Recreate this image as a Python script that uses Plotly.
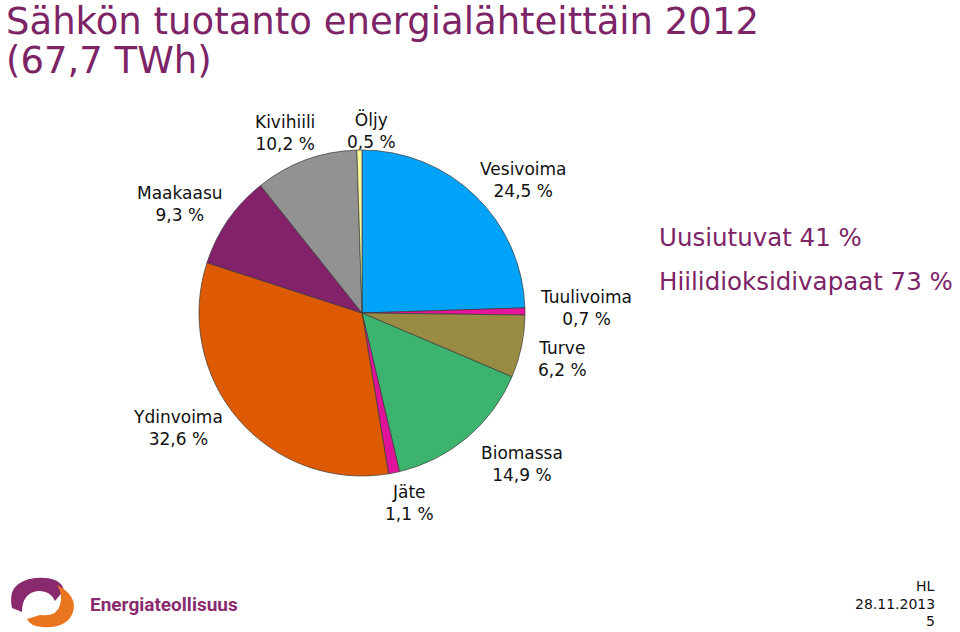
import plotly.graph_objects as go

# Data (clockwise from 12 o'clock)
categories = ["Vesivoima", "Tuulivoima", "Turve", "Biomassa", "Jäte",
              "Ydinvoima", "Maakaasu", "Kivihiili", "Öljy"]
shares = [24.5, 0.7, 6.2, 14.9, 1.1, 32.6, 9.3, 10.2, 0.5]
share_labels = ["24,5 %", "0,7 %", "6,2 %", "14,9 %", "1,1 %",
                "32,6 %", "9,3 %", "10,2 %", "0,5 %"]
colors = ["#00A3F8", "#E6139B", "#9A8B42", "#3DB370", "#E0129A",
          "#DE5A02", "#83226A", "#929292", "#FFFF99"]

title_line1 = "Sähkön tuotanto energialähteittäin 2012"
title_line2 = "(67,7 TWh)"
side_notes = ["Uusiutuvat 41 %", "Hiilidioksidivapaat 73 %"]
footer = ["HL", "28.11.2013", "5"]
brand = "Energiateollisuus"

W, H = 960, 632
cx, cy, r = 362, 313, 163

fig = go.Figure()
fig.add_trace(go.Pie(
    labels=categories, values=shares, sort=False, direction="clockwise",
    rotation=0, textinfo="none", showlegend=False,
    marker=dict(colors=colors, line=dict(color="#3a3a3a", width=0.7)),
    domain=dict(x=[(cx - r) / W, (cx + r) / W],
                y=[1 - (cy + r) / H, 1 - (cy - r) / H]),
))

# invisible pixel-space axes
fig.update_layout(
    xaxis=dict(range=[0, W], visible=False, domain=[0, 1], fixedrange=True),
    yaxis=dict(range=[H, 0], visible=False, domain=[0, 1], fixedrange=True),
)

TXT = "DejaVu Sans, Verdana, sans-serif"
PURPLE = "#7D2467"

label_pos = {
    "Vesivoima": (523, 180), "Tuulivoima": (586, 308), "Turve": (562, 359),
    "Biomassa": (522, 464), "Jäte": (409, 503), "Ydinvoima": (178, 428),
    "Maakaasu": (180, 204), "Kivihiili": (285, 133), "Öljy": (371, 130),
}
ann = []
for name, pct in zip(categories, share_labels):
    x, y = label_pos[name]
    ann.append(dict(x=x, y=y, xref="x", yref="y", text=f"{name}<br>{pct}",
                    showarrow=False, align="center",
                    font=dict(family=TXT, size=17, color="#111111")))

ann.append(dict(x=4, y=21, xref="x", yref="y", text=title_line1, showarrow=False,
                xanchor="left", yanchor="middle",
                font=dict(family=TXT, size=37, color=PURPLE)))
ann.append(dict(x=4, y=60, xref="x", yref="y", text=title_line2, showarrow=False,
                xanchor="left", yanchor="middle",
                font=dict(family=TXT, size=37, color=PURPLE)))
for i, t in enumerate(side_notes):
    ann.append(dict(x=657, y=237 + 44 * i, xref="x", yref="y", text=t,
                    showarrow=False, xanchor="left", yanchor="middle",
                    font=dict(family=TXT, size=24.5, color=PURPLE)))
for i, t in enumerate(footer):
    ann.append(dict(x=937, y=586 + 17.5 * i, xref="x", yref="y", text=t,
                    showarrow=False, xanchor="right", yanchor="middle",
                    font=dict(family=TXT, size=14, color="#111111")))
ann.append(dict(x=88, y=604, xref="x", yref="y", text=f"<b>{brand}</b>",
                showarrow=False, xanchor="left", yanchor="middle",
                font=dict(family="Roboto, sans-serif", size=19, color="#8A2A6E")))

shapes = [
    dict(type="path", xref="x", yref="y", line=dict(width=0), fillcolor="#8A2A6E",
         path="M 12,608 Q 6,582 35,578 Q 60,576 64,590 L 55,601 Q 50,590 38,591 Q 22,593 22,612 Z"),
    dict(type="path", xref="x", yref="y", line=dict(width=0), fillcolor="#E9761E",
         path="M 57,585 Q 78,596 73,612 Q 67,629 42,627 Q 30,626 27,619 L 40,615 Q 57,617 60,605 Q 63,594 57,585 Z"),
]

fig.update_layout(
    width=W, height=H, margin=dict(l=0, r=0, t=0, b=0),
    paper_bgcolor="white", plot_bgcolor="white",
    annotations=ann, shapes=shapes,
)
fig.write_html("out.html")
